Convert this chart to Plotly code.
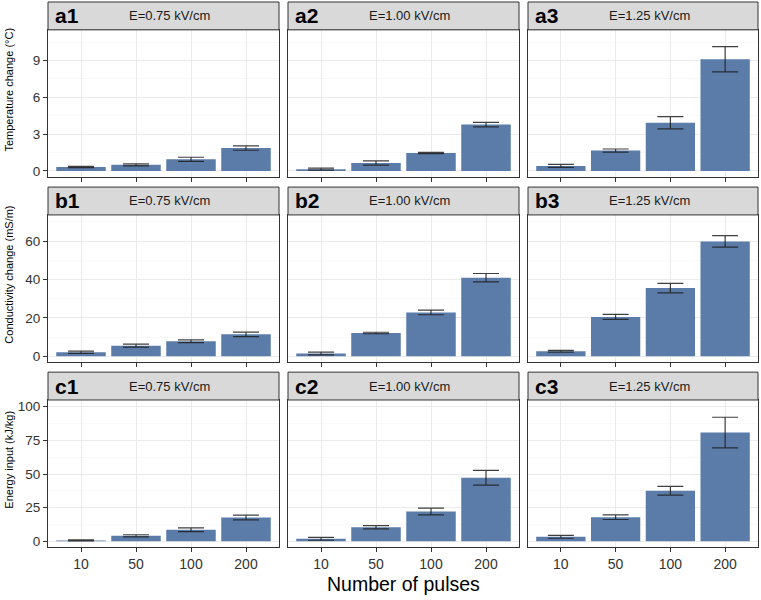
import plotly.graph_objects as go

W, H = 761, 600

pulses = ["10", "50", "100", "200"]
fields = ["E=0.75 kV/cm", "E=1.00 kV/cm", "E=1.25 kV/cm"]
row_titles = ["Temperature change (°C)", "Conductivity change (mS/m)", "Energy input (kJ/kg)"]
row_letters = ["a", "b", "c"]

temp_075 = [0.33, 0.50, 0.95, 1.87]
temp_075_err = [0.05, 0.08, 0.17, 0.18]
temp_100 = [0.15, 0.65, 1.46, 3.78]
temp_100_err = [0.08, 0.18, 0.05, 0.18]
temp_125 = [0.41, 1.66, 3.93, 9.10]
temp_125_err = [0.12, 0.13, 0.50, 1.03]

cond_075 = [2.1, 5.5, 7.8, 11.4]
cond_075_err = [0.6, 0.8, 0.7, 1.2]
cond_100 = [1.4, 12.1, 22.8, 40.9]
cond_100_err = [0.7, 0.4, 1.2, 2.2]
cond_125 = [2.6, 20.5, 35.5, 59.8]
cond_125_err = [0.5, 1.3, 2.5, 3.0]

energy_075 = [0.7, 4.1, 8.6, 17.7]
energy_075_err = [0.4, 0.8, 1.4, 1.7]
energy_100 = [1.9, 10.5, 22.1, 47.2]
energy_100_err = [1.1, 1.2, 2.5, 5.5]
energy_125 = [3.4, 17.9, 37.6, 80.8]
energy_125_err = [1.1, 1.7, 3.2, 11.4]

y_ticks = [[0, 3, 6, 9], [0, 20, 40, 60], [0, 25, 50, 75, 100]]
y_ranges = [[-0.5, 11.5], [-3.1, 73.6], [-4.4, 105]]
y_minor = [1.5, 10, 12.5]

values = [[temp_075, temp_100, temp_125],
          [cond_075, cond_100, cond_125],
          [energy_075, energy_100, energy_125]]
errors = [[temp_075_err, temp_100_err, temp_125_err],
          [cond_075_err, cond_100_err, cond_125_err],
          [energy_075_err, energy_100_err, energy_125_err]]

# layout geometry (pixels)
col_px = [(48, 279), (288, 519), (528, 758)]
strip_px = [(1, 29), (187, 215), (373, 401)]
plot_px = [(29, 177), (215, 363), (401, 549)]

FONT = "Liberation Sans, Arial, Helvetica, sans-serif"
BAR = "#5b7ba8"
DARK = "#333333"

fig = go.Figure()
shapes = []
annotations = []
layout = {}

for r in range(3):
    for c in range(3):
        k = r * 3 + c + 1
        xa = "x" if k == 1 else f"x{k}"
        ya = "y" if k == 1 else f"y{k}"
        fig.add_trace(go.Bar(
            x=pulses, y=values[r][c], xaxis=xa, yaxis=ya,
            marker=dict(color=BAR, line=dict(width=0)),
            error_y=dict(type="data", array=errors[r][c], visible=True,
                         color="rgba(30,30,30,0.85)", thickness=1.2, width=13),
            showlegend=False,
        ))
        x0, x1 = col_px[c]
        p0, p1 = plot_px[r]
        xkey = "xaxis" if k == 1 else f"xaxis{k}"
        ykey = "yaxis" if k == 1 else f"yaxis{k}"
        layout[xkey] = dict(
            domain=[x0 / W, x1 / W], anchor=ya, type="category",
            categoryorder="array", categoryarray=pulses,
            range=[-0.6, 3.6], showgrid=True, gridcolor="#ebebeb", gridwidth=1,
            showline=True, mirror=True, linecolor=DARK, linewidth=1,
            ticks="outside", ticklen=4, tickcolor=DARK, tickwidth=1,
            showticklabels=(r == 2),
            tickfont=dict(family=FONT, size=14, color="#333333"),
            zeroline=False, fixedrange=True,
        )
        layout[ykey] = dict(
            domain=[1 - p1 / H, 1 - p0 / H], anchor=xa,
            range=y_ranges[r], tickvals=y_ticks[r],
            showgrid=True, gridcolor="#ebebeb", gridwidth=1,
            minor=dict(dtick=y_minor[r], tick0=0, showgrid=True,
                       gridcolor="#f3f3f3", gridwidth=0.6),
            showline=True, mirror=True, linecolor=DARK, linewidth=1,
            ticks="outside" if c == 0 else "", ticklen=4, tickcolor=DARK, tickwidth=1,
            showticklabels=(c == 0),
            tickfont=dict(family=FONT, size=13.5, color="#333333"),
            zeroline=False, fixedrange=True,
        )
        s0, s1 = strip_px[r]
        shapes.append(dict(type="rect", xref="paper", yref="paper",
                           x0=x0 / W, x1=x1 / W, y0=1 - s1 / H, y1=1 - s0 / H,
                           fillcolor="#d9d9d9", line=dict(color=DARK, width=1),
                           layer="above"))
        annotations.append(dict(
            text=f"<b>{row_letters[r]}{c + 1}</b>", xref="paper", yref="paper",
            x=(x0 + 5) / W, y=1 - (s0 + s1) / 2 / H, xanchor="left", yanchor="middle",
            showarrow=False, font=dict(family=FONT, size=21, color="#000000")))
        annotations.append(dict(
            text=fields[c], xref="paper", yref="paper",
            x=((x0 + x1) / 2 + 6) / W, y=1 - (s0 + s1) / 2 / H,
            xanchor="center", yanchor="middle",
            showarrow=False, font=dict(family=FONT, size=13, color="#1a1a1a")))
    annotations.append(dict(
        text=row_titles[r], xref="paper", yref="paper",
        x=9 / W, y=1 - (strip_px[r][0] + plot_px[r][1]) / 2 / H,
        xanchor="center", yanchor="middle", textangle=-90,
        showarrow=False, font=dict(family=FONT, size=11, color="#000000")))

annotations.append(dict(
    text="Number of pulses", xref="paper", yref="paper",
    x=403 / W, y=1 - 586 / H, xanchor="center", yanchor="middle",
    showarrow=False, font=dict(family=FONT, size=19.5, color="#000000")))

fig.update_layout(
    width=W, height=H, margin=dict(l=0, r=0, t=0, b=0),
    paper_bgcolor="white", plot_bgcolor="white",
    bargap=0.1, shapes=shapes, annotations=annotations,
    **layout,
)

fig.write_html(
    "out.html",
    config={"displayModeBar": False, "staticPlot": True},
    post_script="document.body.style.margin='0px';document.body.style.overflow='hidden';",
)
